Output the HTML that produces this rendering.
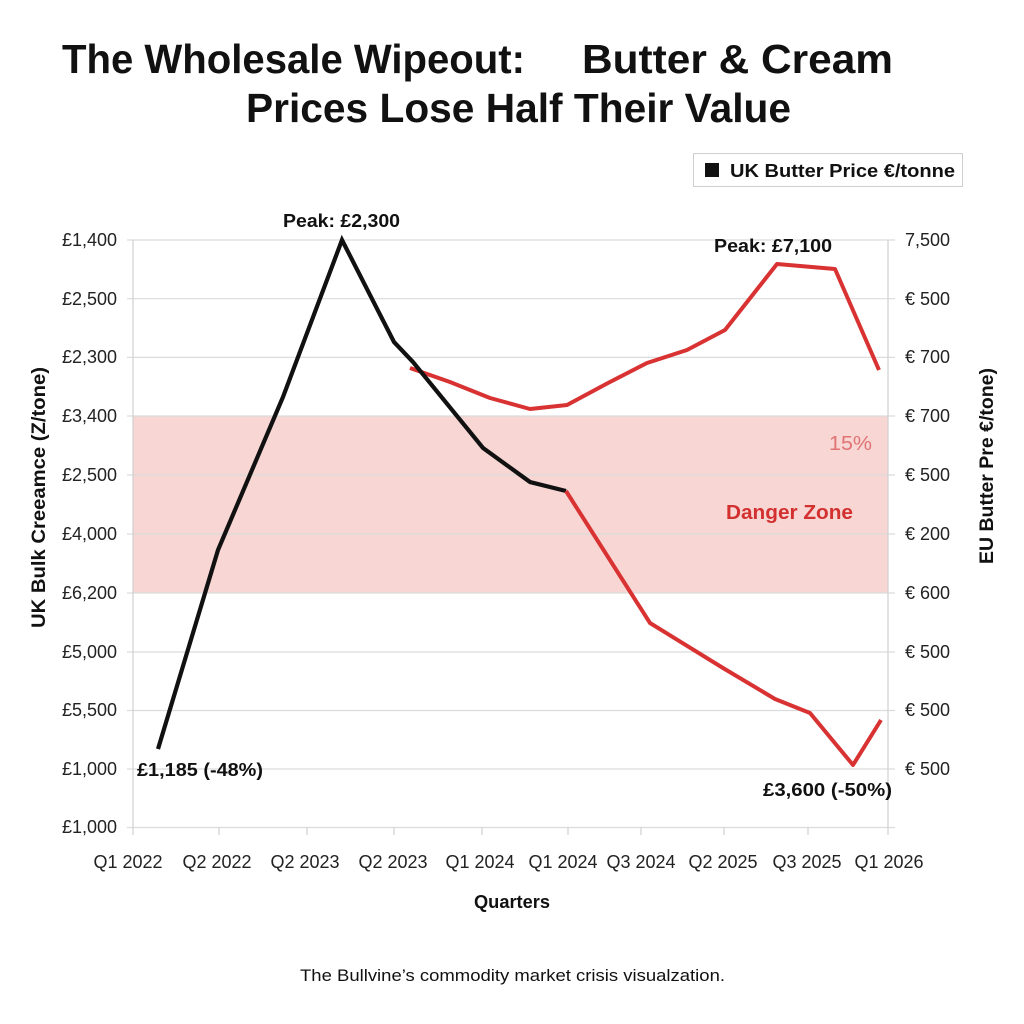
<!DOCTYPE html>
<html>
<head>
<meta charset="utf-8">
<style>
  html,body{margin:0;padding:0;background:#ffffff;}
  svg{display:block;}
  text{font-family:"Liberation Sans", Arial, sans-serif;}
</style>
</head>
<body>
<svg width="1024" height="1024" viewBox="0 0 1024 1024" xmlns="http://www.w3.org/2000/svg">
  <rect x="0" y="0" width="1024" height="1024" fill="#ffffff"/>

  <!-- Title -->
  <text x="62" y="73" font-size="41" font-weight="bold" fill="#111" textLength="463" lengthAdjust="spacingAndGlyphs">The Wholesale Wipeout:</text>
  <text x="582" y="73" font-size="41" font-weight="bold" fill="#111" textLength="311" lengthAdjust="spacingAndGlyphs">Butter &amp; Cream</text>
  <text x="246" y="122" font-size="41" font-weight="bold" fill="#111" textLength="545" lengthAdjust="spacingAndGlyphs">Prices Lose Half Their Value</text>

  <!-- Legend -->
  <rect x="693.5" y="153.5" width="269" height="33" fill="#ffffff" stroke="#cfcfcf" stroke-width="1"/>
  <rect x="705" y="163" width="14" height="14" fill="#111"/>
  <text x="730" y="177" font-size="18" font-weight="bold" fill="#111" textLength="225" lengthAdjust="spacingAndGlyphs">UK Butter Price €/tonne</text>

  <!-- Danger zone -->
  <rect x="133" y="416" width="755" height="177" fill="#f7d6d3"/>

  <!-- Gridlines -->
  <g stroke="#dcdcdc" stroke-width="1.2">
    <line x1="127" y1="240" x2="895" y2="240"/>
    <line x1="127" y1="298.7" x2="895" y2="298.7"/>
    <line x1="127" y1="357.4" x2="895" y2="357.4"/>
    <line x1="127" y1="416" x2="895" y2="416"/>
    <line x1="127" y1="475" x2="895" y2="475"/>
    <line x1="127" y1="534" x2="895" y2="534"/>
    <line x1="127" y1="593" x2="895" y2="593"/>
    <line x1="127" y1="652" x2="895" y2="652"/>
    <line x1="127" y1="710.5" x2="895" y2="710.5"/>
    <line x1="127" y1="769" x2="895" y2="769"/>
    <line x1="127" y1="827.5" x2="895" y2="827.5"/>
  </g>
  <!-- Axis verticals -->
  <g stroke="#d0d0d0" stroke-width="1.2">
    <line x1="133" y1="240" x2="133" y2="835"/>
    <line x1="888" y1="240" x2="888" y2="835"/>
    <line x1="219" y1="827" x2="219" y2="835"/>
    <line x1="307" y1="827" x2="307" y2="835"/>
    <line x1="394" y1="827" x2="394" y2="835"/>
    <line x1="482" y1="827" x2="482" y2="835"/>
    <line x1="568" y1="827" x2="568" y2="835"/>
    <line x1="641" y1="827" x2="641" y2="835"/>
    <line x1="724" y1="827" x2="724" y2="835"/>
    <line x1="808" y1="827" x2="808" y2="835"/>
  </g>

  <!-- Left tick labels -->
  <g font-size="18" fill="#222" text-anchor="end">
    <text x="117" y="246">£1,400</text>
    <text x="117" y="305">£2,500</text>
    <text x="117" y="363">£2,300</text>
    <text x="117" y="422">£3,400</text>
    <text x="117" y="481">£2,500</text>
    <text x="117" y="540">£4,000</text>
    <text x="117" y="599">£6,200</text>
    <text x="117" y="658">£5,000</text>
    <text x="117" y="716">£5,500</text>
    <text x="117" y="775">£1,000</text>
    <text x="117" y="833">£1,000</text>
  </g>

  <!-- Right tick labels -->
  <g font-size="18" fill="#222">
    <text x="905" y="246">7,500</text>
    <text x="905" y="305">€ 500</text>
    <text x="905" y="363">€ 700</text>
    <text x="905" y="422">€ 700</text>
    <text x="905" y="481">€ 500</text>
    <text x="905" y="540">€ 200</text>
    <text x="905" y="599">€ 600</text>
    <text x="905" y="658">€ 500</text>
    <text x="905" y="716">€ 500</text>
    <text x="905" y="775">€ 500</text>
  </g>

  <!-- X labels -->
  <g font-size="18" fill="#222" text-anchor="middle">
    <text x="128" y="868">Q1 2022</text>
    <text x="217" y="868">Q2 2022</text>
    <text x="305" y="868">Q2 2023</text>
    <text x="393" y="868">Q2 2023</text>
    <text x="480" y="868">Q1 2024</text>
    <text x="563" y="868">Q1 2024</text>
    <text x="641" y="868">Q3 2024</text>
    <text x="723" y="868">Q2 2025</text>
    <text x="807" y="868">Q3 2025</text>
    <text x="889" y="868">Q1 2026</text>
  </g>
  <text x="512" y="908" font-size="18" font-weight="bold" fill="#111" text-anchor="middle" textLength="76" lengthAdjust="spacingAndGlyphs">Quarters</text>

  <!-- Axis titles -->
  <text transform="translate(45,628) rotate(-90)" x="0" y="0" font-size="19" font-weight="bold" fill="#111" textLength="261" lengthAdjust="spacingAndGlyphs">UK Bulk Creeamce (Z/tone)</text>
  <text transform="translate(993,564) rotate(-90)" x="0" y="0" font-size="19" font-weight="bold" fill="#111" textLength="196" lengthAdjust="spacingAndGlyphs">EU Butter Pre €/tone)</text>

  <!-- Zone labels -->
  <text x="829" y="450" font-size="20" fill="#e07474" textLength="43" lengthAdjust="spacingAndGlyphs">15%</text>
  <text x="726" y="519" font-size="20" font-weight="bold" fill="#d33030" textLength="127" lengthAdjust="spacingAndGlyphs">Danger Zone</text>

  <!-- Red line (upper) -->
  <polyline fill="none" stroke="#d93232" stroke-width="4" stroke-linejoin="round"
    points="410,368 450,382 490,398 530,409 567,405 608,383 647,363 687,350 725,330 777,264 835,269 879,370"/>

  <!-- Black line -->
  <polyline fill="none" stroke="#111" stroke-width="4.2" stroke-linejoin="miter"
    points="158,749 218,550 283,397 342,240 394,342 413,362 483,448 530,482 566,491"/>

  <!-- Red line (lower) -->
  <polyline fill="none" stroke="#d93232" stroke-width="4" stroke-linejoin="round"
    points="566,491 650,623 723,668 775,699 810,713 853,765 881,720"/>

  <!-- Annotations -->
  <text x="283" y="227" font-size="18" font-weight="bold" fill="#111" textLength="117" lengthAdjust="spacingAndGlyphs">Peak: £2,300</text>
  <text x="714" y="252" font-size="18" font-weight="bold" fill="#111" textLength="118" lengthAdjust="spacingAndGlyphs">Peak: £7,100</text>
  <text x="137" y="776" font-size="18" font-weight="bold" fill="#111" textLength="126" lengthAdjust="spacingAndGlyphs">£1,185 (-48%)</text>
  <text x="763" y="796" font-size="18" font-weight="bold" fill="#111" textLength="129" lengthAdjust="spacingAndGlyphs">£3,600 (-50%)</text>

  <!-- Caption -->
  <text x="300" y="981" font-size="17" fill="#111" textLength="425" lengthAdjust="spacingAndGlyphs">The Bullvine’s commodity market crisis visualzation.</text>
</svg>
</body>
</html>
